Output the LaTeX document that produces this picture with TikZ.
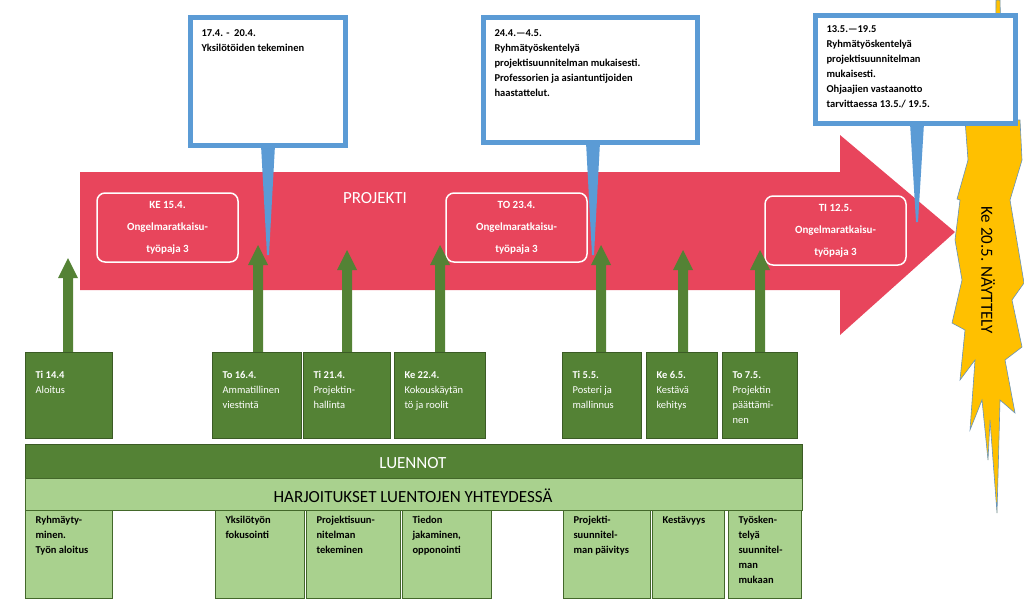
\documentclass[tikz,border=0pt]{standalone}
\usepackage{fontspec}
\setmainfont{Carlito}
\begin{document}
\begin{tikzpicture}[x=1pt,y=-1pt,
  dg/.style={fill=dgreen,draw=dgreen!70!black,line width=0.6pt},
  lg/.style={fill=lgreen,draw=dgreen!80!black,line width=0.6pt},
  rbox/.style={draw=white,line width=1.5pt,rounded corners=8pt},
  cbox/.style={draw=cblue,line width=5pt,fill=white},
  txt/.style={font=\fontsize{10.5}{15}\selectfont\bfseries,align=left,anchor=north west},
  gtxt/.style={font=\fontsize{10.5}{15}\selectfont,text=white,align=left,anchor=north west},
  ltxt/.style={font=\fontsize{10.5}{15}\selectfont\bfseries,align=left,anchor=north west}]
\definecolor{dgreen}{HTML}{548235}
\definecolor{lgreen}{HTML}{A9D18E}
\definecolor{pred}{HTML}{E8455C}
\definecolor{cblue}{HTML}{5B9BD5}
\definecolor{star}{HTML}{FFC000}
\useasboundingbox (0,0) rectangle (1024,603);
% big arrow
\fill[pred] (80,172) -- (840,172) -- (840,135) -- (955,232) -- (840,335) -- (840,290) -- (80,290) -- cycle;
\node[text=white,font=\fontsize{17}{20}\selectfont] (proj) at (375,198) {PROJEKTI};
\foreach \n/\x/\y/\t in {w1/97/193/{KE 15.4.},w2/446/193/{TO 23.4.},w3/765/196/{TI 12.5.}}{
  \draw[rbox] (\x,\y) rectangle ++(141,69);
  \node[text=white,font=\fontsize{11}{22}\selectfont\bfseries,align=center] (\n) at (\x+70.5,\y+34.5) {\t\\Ongelmaratkaisu-\\työpaja \ifx\n w11\else\ifx\n w22\else3\fi\fi};
}
% star
\draw[fill=star,draw=cblue!70!gray,line width=0.6pt] (996,0) -- (1000,0) -- (1003,120) -- (1020,120) -- (1022,160) -- (1010,200) -- (1024,283) -- (1012,300) -- (1022,347) -- (1005,360) -- (1015,413) -- (1000,400) -- (997,513) -- (990,420) -- (988,460) -- (982,400) -- (970,430) -- (975,360) -- (960,380) -- (965,330) -- (952,323) -- (962,280) -- (955,240) -- (960,200) -- (957,199) -- (968,160) -- (965,120) -- (995,120) -- cycle;
\node[rotate=-90,font=\fontsize{17}{20}\selectfont] (nay) at (988,270) {Ke 20.5. NÄYTTELY};
% callouts
\foreach \n/\a/\b/\c/\d/\px/\tip in {c1/190/17/345/145/268/255,c2/483/17/697/142/593/255,c3/815/15/1015/123/917/222}{
  \fill[cblue] (\px-7,\d) -- (\px+7,\d) -- (\px+1,\tip) -- (\px-1,\tip) -- cycle;
  \draw[cbox] (\a,\b) rectangle (\c,\d);
}
\node[txt] (t1) at (198,26) {17.4. -\ \ 20.4.\\Yksilötöiden tekeminen};
\node[txt] (t2) at (491,26) {24.4.—4.5.\\Ryhmätyöskentelyä\\projektisuunnitelman mukaisesti.\\Professorien ja asiantuntijoiden\\haastattelut.};
\node[txt] (t3) at (823,22) {13.5.—19.5\\Ryhmätyöskentelyä\\projektisuunnitelman\\mukaisesti.\\Ohjaajien vastaanotto\\tarvittaessa 13.5./ 19.5.};
% up arrows
\foreach \x/\t in {68/258,258/245,347/250,440/245,601/245,683/250,760/250}{
  \fill[dgreen] (\x-5,352) -- (\x-5,\t+20) -- (\x-10,\t+20) -- (\x,\t) -- (\x+10,\t+20) -- (\x+5,\t+20) -- (\x+5,352) -- cycle;
}
% green boxes
\foreach \n/\a/\c/\tx in {g1/25/112/{\textbf{Ti 14.4}\\Aloitus},g2/212/301/{\textbf{To 16.4.}\\Ammatillinen\\viestintä},g3/303/390/{\textbf{Ti 21.4.}\\Projektin-\\hallinta},g4/394/485/{\textbf{Ke 22.4.}\\Kokouskäytän\\tö ja roolit},g5/562/641/{\textbf{Ti 5.5.}\\Posteri ja\\mallinnus},g6/646/717/{\textbf{Ke 6.5.}\\Kestävä\\kehitys},g7/722/797/{\textbf{To 7.5.}\\Projektin\\päättämi-\\nen}}{
  \draw[dg] (\a,352) rectangle (\c,438);
  \node[gtxt] (\n) at (\a+7,368) {\tx};
}
\draw[dg] (25,444) rectangle (802,478);
\node[text=white,font=\fontsize{17}{20}\selectfont] (lu) at (413,463) {LUENNOT};
\draw[lg] (25,478) rectangle (802,510);
\node[font=\fontsize{17}{20}\selectfont] (ha) at (413,496) {HARJOITUKSET LUENTOJEN YHTEYDESSÄ};
\foreach \n/\a/\c/\tx in {h1/25/112/{Ryhmäyty-\\minen.\\Työn aloitus},h2/215/304/{Yksilötyön\\fokusointi},h3/306/400/{Projektisuun-\\nitelman\\tekeminen},h4/402/491/{Tiedon\\jakaminen,\\opponointi},h5/563/650/{Projekti-\\suunnitel-\\man päivitys},h6/652/724/{Kestävyys},h7/728/801/{Työsken-\\telyä\\suunnitel-\\man\\mukaan}}{
  \draw[lg] (\a,510) rectangle (\c,598);
  \node[ltxt] (\n) at (\a+7,513) {\tx};
}
\end{tikzpicture}
\end{document}
